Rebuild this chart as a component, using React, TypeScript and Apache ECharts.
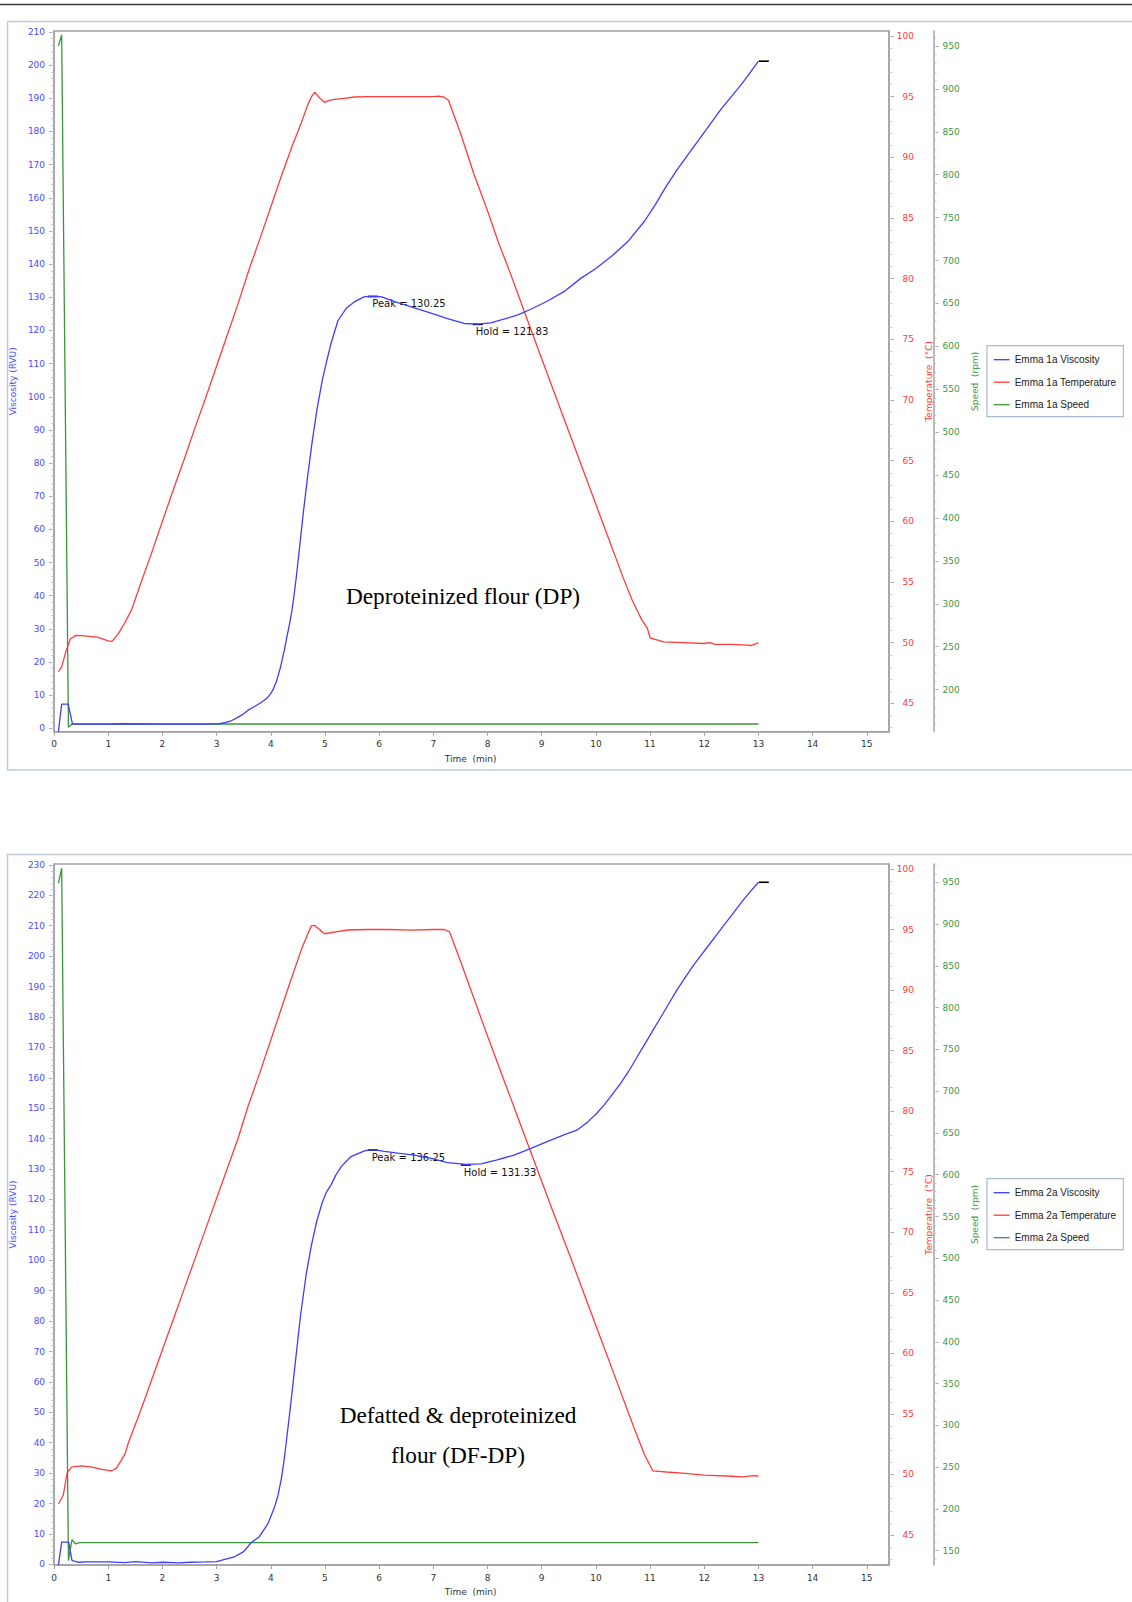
import React, { useEffect, useRef } from "react";
import * as echarts from "echarts";

// ---------- Panel 1: Deproteinized flour (DP) ----------
const dpViscT = [0.08, 0.14, 0.26, 0.34, 1.0, 1.25, 2.0, 2.8, 3.05, 3.15, 3.27, 3.4, 3.5, 3.58, 3.7, 3.8, 3.9, 3.95, 4.0, 4.05, 4.1, 4.13, 4.18, 4.22, 4.25, 4.3, 4.34, 4.38, 4.42, 4.47, 4.52, 4.6, 4.68, 4.76, 4.85, 4.95, 5.05, 5.11, 5.24, 5.4, 5.54, 5.73, 5.89, 6.03, 6.3, 6.65, 7.0, 7.26, 7.57, 7.82, 8.06, 8.3, 8.55, 8.8, 9.1, 9.41, 9.72, 10.0, 10.3, 10.6, 10.9, 11.1, 11.3, 11.5, 11.7, 11.9, 12.1, 12.3, 12.5, 12.7, 12.85, 13.0];
const dpViscV = [-1, 7.3, 7.3, 1.3, 1.3, 1.4, 1.3, 1.3, 1.4, 1.7, 2.3, 3.4, 4.4, 5.5, 6.6, 7.6, 8.7, 9.5, 10.5, 12.0, 14.0, 15.6, 18.5, 21.5, 23.6, 27.8, 31, 34.5, 39, 45.5, 53, 65, 76, 86, 96, 105, 112, 116, 123, 126.8, 128.6, 130.2, 130.3, 130.2, 128.6, 126.8, 125, 123.6, 122.1, 121.9, 122.3, 123.4, 124.6, 126.4, 128.8, 131.7, 135.7, 138.7, 142.5, 147, 153, 158, 163.5, 168.5, 173, 177.5, 182, 186.5, 190.5, 194.5, 197.8, 201.2];
const dpTempT = [0.08, 0.14, 0.22, 0.3, 0.4, 0.55, 0.8, 1.0, 1.07, 1.19, 1.3, 1.43, 1.6, 1.8, 2.0, 2.2, 2.4, 2.6, 2.8, 3.0, 3.2, 3.4, 3.61, 3.8, 4.0, 4.19, 4.4, 4.56, 4.68, 4.75, 4.81, 4.9, 4.99, 5.08, 5.17, 5.35, 5.55, 5.79, 6.2, 6.6, 7.0, 7.1, 7.2, 7.28, 7.5, 7.75, 8.0, 8.2, 8.4, 8.67, 9.0, 9.3, 9.6, 9.9, 10.2, 10.5, 10.67, 10.85, 10.95, 11.0, 11.25, 11.6, 12.0, 12.1, 12.2, 12.5, 12.8, 12.85, 12.95, 13.0];
const dpTempV = [47.6, 48.0, 49.3, 50.3, 50.6, 50.55, 50.45, 50.15, 50.1, 50.76, 51.6, 52.7, 54.9, 57.4, 60.0, 62.6, 65.1, 67.7, 70.2, 72.8, 75.4, 78.0, 80.9, 83.3, 85.9, 88.4, 91.0, 92.8, 94.3, 95.0, 95.36, 94.9, 94.53, 94.7, 94.78, 94.85, 94.97, 95.0, 95.0, 95.0, 95.0, 95.05, 94.95, 94.7, 92.0, 88.6, 85.6, 83.0, 80.7, 77.4, 73.4, 69.8, 66.2, 62.6, 59.0, 55.4, 53.5, 51.85, 51.2, 50.4, 50.07, 50.0, 49.93, 50.0, 49.85, 49.85, 49.8, 49.75, 49.9, 50.0];
const dpSpeedT = [0.08, 0.14, 0.265, 0.33, 13.0];
const dpSpeedV = [950, 963, 156, 160, 160];
const dpPeak = [5.89, 130.25];
const dpHold = [7.82, 121.83];
const dpFinal = [13.1, 201.2];

// ---------- Panel 2: Defatted & deproteinized flour (DF-DP) ----------
const dfViscT = [0.08, 0.14, 0.27, 0.33, 0.45, 0.6, 1.0, 1.3, 1.5, 1.8, 2.0, 2.3, 2.5, 2.8, 3.0, 3.1, 3.2, 3.33, 3.5, 3.64, 3.79, 3.95, 4.07, 4.13, 4.19, 4.24, 4.29, 4.37, 4.45, 4.55, 4.65, 4.75, 4.85, 4.95, 5.03, 5.11, 5.2, 5.3, 5.48, 5.73, 5.88, 6.1, 6.34, 6.65, 6.96, 7.26, 7.6, 7.88, 8.18, 8.49, 8.8, 9.1, 9.41, 9.66, 9.85, 10.0, 10.15, 10.3, 10.45, 10.6, 10.75, 10.9, 11.05, 11.2, 11.35, 11.5, 11.65, 11.8, 11.95, 12.1, 12.25, 12.4, 12.55, 12.7, 12.85, 13.0];
const dfViscV = [-0.2, 7.3, 7.3, 1.3, 0.7, 0.8, 0.8, 0.6, 0.9, 0.5, 0.7, 0.5, 0.7, 0.8, 0.9, 1.4, 1.9, 2.5, 4.2, 7.2, 9.1, 13.5, 18.9, 22.5, 27.7, 33.5, 40.9, 53, 66, 82, 95, 105, 113, 119, 122.5, 124.7, 128, 130.8, 134.1, 136.0, 136.4, 135.8, 135.2, 134.6, 133.5, 132.1, 131.5, 131.7, 133.0, 134.6, 136.8, 139, 141.2, 142.9, 145.5, 148, 151, 154.5, 158, 162, 166.5, 171, 175.5, 180, 184.5, 189, 193, 197, 200.5, 204, 207.5, 211, 214.5, 218, 221.2, 224.3];
const dfTempT = [0.08, 0.17, 0.24, 0.32, 0.5, 0.7, 0.88, 1.06, 1.15, 1.31, 1.37, 1.6, 1.8, 2.0, 2.2, 2.4, 2.6, 2.8, 3.0, 3.2, 3.4, 3.58, 3.8, 4.07, 4.3, 4.56, 4.68, 4.75, 4.81, 4.9, 4.99, 5.2, 5.42, 5.8, 6.2, 6.6, 7.0, 7.2, 7.3, 7.5, 7.75, 8.0, 8.3, 8.6, 8.9, 9.2, 9.5, 9.8, 10.1, 10.4, 10.7, 10.9, 11.05, 11.3, 11.6, 12.0, 12.5, 12.7, 12.9, 13.0];
const dfTempV = [47.56, 48.3, 50.1, 50.6, 50.7, 50.6, 50.42, 50.3, 50.5, 51.7, 52.6, 55.3, 57.8, 60.3, 62.8, 65.3, 67.8, 70.3, 72.8, 75.3, 77.8, 80.4, 83.2, 86.8, 89.9, 93.3, 94.6, 95.3, 95.34, 95.0, 94.65, 94.8, 94.96, 95.0, 95.0, 94.95, 95.0, 95.0, 94.8, 92.4, 89.3, 86.2, 82.6, 79.0, 75.4, 71.8, 68.3, 64.7, 61.1, 57.5, 53.9, 51.6, 50.3, 50.2, 50.1, 49.95, 49.85, 49.8, 49.9, 49.85];
const dfSpeedT = [0.08, 0.14, 0.265, 0.33, 0.4, 0.47, 13.0];
const dfSpeedV = [949, 967, 138, 163, 158, 159.5, 159.5];
const dfPeak = [5.88, 136.25];
const dfHold = [7.6, 131.33];
const dfFinal = [13.1, 224.3];

// ---------- Tick values ----------
const timeTicks = [0, 1, 2, 3, 4, 5, 6, 7, 8, 9, 10, 11, 12, 13, 14, 15];
const dpViscTicks = [0, 10, 20, 30, 40, 50, 60, 70, 80, 90, 100, 110, 120, 130, 140, 150, 160, 170, 180, 190, 200, 210];
const dfViscTicks = [0, 10, 20, 30, 40, 50, 60, 70, 80, 90, 100, 110, 120, 130, 140, 150, 160, 170, 180, 190, 200, 210, 220, 230];
const tempTicks = [45, 50, 55, 60, 65, 70, 75, 80, 85, 90, 95, 100];
const dpSpeedTicks = [200, 250, 300, 350, 400, 450, 500, 550, 600, 650, 700, 750, 800, 850, 900, 950];
const dfSpeedTicks = [150, 200, 250, 300, 350, 400, 450, 500, 550, 600, 650, 700, 750, 800, 850, 900, 950];

const BLUE = "#3d3dff";
const RED = "#ff3c3c";
const GREEN = "#3a963a";
const LBLUE = "#4a4aff";
const LRED = "#ff3a3a";
const LGREEN = "#3f963f";
const AXIS = "#a2a2a2";
const FONT = "DejaVu Sans";

function pairs(t: number[], v: number[]) {
  return t.map((x, i) => [x, v[i]]);
}
function range(a: number, b: number, s: number) {
  const out: number[] = [];
  for (let x = a; x <= b + 1e-9; x += s) out.push(Math.round(x * 100) / 100);
  return out;
}

function buildPanel(p: any) {
  const g = p.grid;
  const xAxis = {
    gridIndex: g, type: "value", min: 0, max: 15.41,
    axisLine: { show: true, onZero: false, lineStyle: { color: AXIS, width: 1.5 } },
    axisTick: { show: true, length: 4, customValues: timeTicks, lineStyle: { color: AXIS } },
    axisLabel: { customValues: timeTicks, color: "#333", fontFamily: FONT, fontSize: 9, margin: 8 },
    splitLine: { show: false },
  };
  const base = (min: number, max: number) => ({
    gridIndex: g, type: "value", min, max, splitLine: { show: false }, scale: true,
  });
  const y: any[] = [];
  y.push({
    ...base(p.vMin, p.vMax), position: "left",
    name: "Viscosity (RVU)", nameLocation: "middle", nameGap: 30, nameRotate: 90,
    nameTextStyle: { color: LBLUE, fontFamily: FONT, fontSize: 9 },
    axisLine: { show: true, onZero: false, lineStyle: { color: AXIS, width: 1.5 } },
    axisTick: { show: true, length: 5, customValues: p.vTicks, lineStyle: { color: AXIS } },
    axisLabel: { customValues: p.vTicks, color: LBLUE, fontFamily: FONT, fontSize: 9, margin: 9 },
  });
  y.push({
    ...base(p.vMin, p.vMax), position: "left",
    axisLine: { show: false, onZero: false },
    axisTick: { show: true, length: 3, customValues: range(0, p.vTicks[p.vTicks.length - 1], 2), lineStyle: { color: "#c4c4c4" } },
    axisLabel: { show: false },
  });
  y.push({
    ...base(p.tMin, p.tMax), position: "right", offset: 0,
    name: "Temperature  (°C)", nameLocation: "middle", nameGap: 30, nameRotate: 90,
    nameTextStyle: { color: LRED, fontFamily: FONT, fontSize: 9 },
    axisLine: { show: true, onZero: false, lineStyle: { color: AXIS, width: 1.5 } },
    axisTick: { show: true, length: 5, customValues: tempTicks, lineStyle: { color: AXIS } },
    axisLabel: { customValues: tempTicks, color: LRED, fontFamily: FONT, fontSize: 9, margin: 25, align: "right" },
  });
  y.push({
    ...base(p.tMin, p.tMax), position: "right", offset: 0,
    axisLine: { show: false, onZero: false },
    axisTick: { show: true, length: 3, customValues: range(43, 100, 1), lineStyle: { color: "#c4c4c4" } },
    axisLabel: { show: false },
  });
  y.push({
    ...base(p.sMin, p.sMax), position: "right", offset: 44.5,
    name: "Speed  (rpm)", nameLocation: "middle", nameGap: 27.6, nameRotate: 90,
    nameTextStyle: { color: LGREEN, fontFamily: FONT, fontSize: 9 },
    axisLine: { show: true, onZero: false, lineStyle: { color: AXIS, width: 1.5 } },
    axisTick: { show: true, length: 5, customValues: p.sTicks, lineStyle: { color: AXIS } },
    axisLabel: { customValues: p.sTicks, color: LGREEN, fontFamily: FONT, fontSize: 9, margin: 9 },
  });
  y.push({
    ...base(p.sMin, p.sMax), position: "right", offset: 44.5,
    axisLine: { show: false, onZero: false },
    axisTick: { show: true, length: 3, customValues: range(Math.ceil(p.sMin / 10) * 10, Math.floor(p.sMax / 10) * 10, 10), lineStyle: { color: "#c4c4c4" } },
    axisLabel: { show: false },
  });
  const yOff = p.yOff;
  const markLabel = (txt: string, dx: number) => ({
    show: true, formatter: txt, position: [dx, 3], align: "left", verticalAlign: "top",
    color: "#111", fontFamily: FONT, fontSize: 10,
  });
  const series = [
    {
      name: p.prefix + " Viscosity", type: "line", xAxisIndex: g, yAxisIndex: yOff, symbol: "none",
      data: pairs(p.viscT, p.viscV), lineStyle: { color: BLUE, width: 1.3 }, itemStyle: { color: BLUE },
      z: 5,
      markPoint: {
        symbol: "rect", symbolSize: [10, 1.6], itemStyle: { color: "#000" }, animation: false,
        data: [
          { coord: p.peak, label: markLabel("Peak = " + p.peak[1].toFixed(2), 4) },
          { coord: p.hold, label: markLabel("Hold = " + p.hold[1].toFixed(2), 3) },
          { coord: p.final, label: { show: false } },
        ],
      },
    },
    {
      name: p.prefix + " Temperature", type: "line", xAxisIndex: g, yAxisIndex: yOff + 2, symbol: "none",
      data: pairs(p.tempT, p.tempV), lineStyle: { color: RED, width: 1.3 }, itemStyle: { color: RED }, z: 4,
    },
    {
      name: p.prefix + " Speed", type: "line", xAxisIndex: g, yAxisIndex: yOff + 4, symbol: "none",
      data: pairs(p.speedT, p.speedV), lineStyle: { color: GREEN, width: 1.3 }, itemStyle: { color: GREEN }, z: 3,
    },
  ];
  const legend = {
    data: series.map((s) => s.name), orient: "vertical", left: 987, top: p.legendTop,
    itemWidth: 16, itemHeight: 14, itemGap: 11.3, padding: [8.4, 7, 6.3, 6],
    borderColor: "#a9bbd0", borderWidth: 1.2, selectedMode: false,
    itemStyle: { opacity: 0 },
    lineStyle: { width: 1.3 },
    textStyle: { color: "#222", fontFamily: "Liberation Sans", fontSize: 10 },
  };
  return { xAxis, y, series, legend };
}

export default function App() {
  const ref = useRef<HTMLDivElement>(null);
  useEffect(() => {
    if (!ref.current) return;
    const chart = echarts.init(ref.current, undefined, { renderer: "svg" });
    const p1 = buildPanel({
      grid: 0, yOff: 0, prefix: "Emma 1a",
      vMin: -1, vMax: 210.3, vTicks: dpViscTicks,
      tMin: 42.66, tMax: 100.41, sMin: 151, sMax: 967.5, sTicks: dpSpeedTicks,
      viscT: dpViscT, viscV: dpViscV, tempT: dpTempT, tempV: dpTempV, speedT: dpSpeedT, speedV: dpSpeedV,
      peak: dpPeak, hold: dpHold, final: dpFinal, legendTop: 345.7,
    });
    const p2 = buildPanel({
      grid: 1, yOff: 6, prefix: "Emma 2a",
      vMin: -0.2, vMax: 230.3, vTicks: dfViscTicks,
      tMin: 42.52, tMax: 100.41, sMin: 132.8, sMax: 972, sTicks: dfSpeedTicks,
      viscT: dfViscT, viscV: dfViscV, tempT: dfTempT, tempV: dfTempV, speedT: dfSpeedT, speedV: dfSpeedV,
      peak: dfPeak, hold: dfHold, final: dfFinal, legendTop: 1178.7,
    });
    const timeName = (y: number) => ({
      type: "text", x: 470.6, y, style: { text: "Time  (min)", fill: "#333", font: "9px 'DejaVu Sans'", textAlign: "center", textVerticalAlign: "middle" },
    });
    const serif = (text: string, x: number, y: number) => ({
      type: "text", x, y, z: 100, style: { text, fill: "#000", font: "23.3px 'Liberation Serif'", textAlign: "center", textVerticalAlign: "middle" },
    });
    chart.setOption({
      animation: false,
      grid: [
        { left: 52.3, top: 31, width: 836.7, height: 700.7, show: true, borderColor: AXIS, borderWidth: 1.5, backgroundColor: "#fff" },
        { left: 52.3, top: 864, width: 836.7, height: 701, show: true, borderColor: AXIS, borderWidth: 1.5, backgroundColor: "#fff" },
      ],
      xAxis: [p1.xAxis, p2.xAxis],
      yAxis: [...p1.y, ...p2.y],
      series: [...p1.series, ...p2.series],
      legend: [p1.legend, p2.legend],
      graphic: [
        { type: "line", shape: { x1: 0, y1: 4.5, x2: 1132, y2: 4.5 }, style: { stroke: "#3a3a3a", lineWidth: 1.5 } },
        { type: "rect", shape: { x: 7.5, y: 21.5, width: 1140, height: 748.5 }, style: { fill: "none", stroke: "#bccbdb", lineWidth: 1.5 } },
        { type: "rect", shape: { x: 7.5, y: 854.5, width: 1140, height: 800 }, style: { fill: "none", stroke: "#bccbdb", lineWidth: 1.5 } },
        timeName(759),
        timeName(1591.7),
        serif("Deproteinized flour (DP)", 463, 596),
        serif("Defatted & deproteinized", 458, 1415),
        serif("flour (DF-DP)", 458, 1455),
      ],
    });
    return () => chart.dispose();
  }, []);
  return <div ref={ref} style={{ position: "absolute", left: 0, top: 0, width: 1132, height: 1602, background: "#fff" }} />;
}
